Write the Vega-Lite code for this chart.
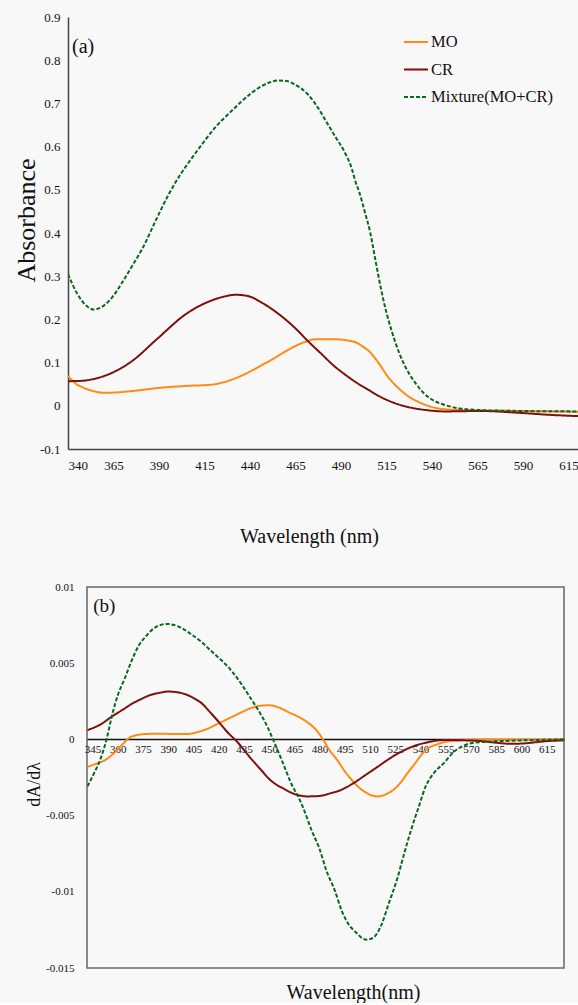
{
  "$schema": "https://vega.github.io/schema/vega-lite/v6.json",
  "background": "#f8f8f8",
  "padding": {"left": 13, "top": 11, "right": 0, "bottom": 0},
  "bounds": "flush",
  "spacing": 138,
  "config": {
    "font": "Liberation Serif",
    "axis": {"labelFont": "Liberation Serif", "titleFont": "Liberation Serif", "titleFontWeight": "normal", "labelColor": "#111", "titleColor": "#111", "grid": false, "ticks": false, "labelOverlap": false, "labelSeparation": 0},
    "legend": {"labelFont": "Liberation Serif", "labelColor": "#111"}
  },
  "datasets": {
    "a": [
      {"s": "MO", "wl": 340, "v": 0.069}, {"s": "MO", "wl": 344, "v": 0.052}, {"s": "MO", "wl": 348, "v": 0.043}, {"s": "MO", "wl": 354, "v": 0.034}, {"s": "MO", "wl": 360, "v": 0.030}, {"s": "MO", "wl": 367, "v": 0.031}, {"s": "MO", "wl": 375, "v": 0.034}, {"s": "MO", "wl": 389, "v": 0.041}, {"s": "MO", "wl": 405, "v": 0.046}, {"s": "MO", "wl": 419, "v": 0.049}, {"s": "MO", "wl": 429, "v": 0.059}, {"s": "MO", "wl": 437, "v": 0.073}, {"s": "MO", "wl": 446, "v": 0.093}, {"s": "MO", "wl": 454, "v": 0.112}, {"s": "MO", "wl": 462, "v": 0.132}, {"s": "MO", "wl": 469, "v": 0.146}, {"s": "MO", "wl": 476, "v": 0.154}, {"s": "MO", "wl": 486, "v": 0.154}, {"s": "MO", "wl": 494, "v": 0.151}, {"s": "MO", "wl": 498, "v": 0.147}, {"s": "MO", "wl": 502, "v": 0.137}, {"s": "MO", "wl": 506, "v": 0.124}, {"s": "MO", "wl": 511, "v": 0.097}, {"s": "MO", "wl": 516, "v": 0.066}, {"s": "MO", "wl": 521, "v": 0.043}, {"s": "MO", "wl": 527, "v": 0.022}, {"s": "MO", "wl": 532, "v": 0.010}, {"s": "MO", "wl": 537, "v": 0.001}, {"s": "MO", "wl": 547, "v": -0.008}, {"s": "MO", "wl": 567, "v": -0.011}, {"s": "MO", "wl": 590, "v": -0.012}, {"s": "MO", "wl": 621, "v": -0.014},
      {"s": "CR", "wl": 340, "v": 0.057}, {"s": "CR", "wl": 348, "v": 0.058}, {"s": "CR", "wl": 354, "v": 0.062}, {"s": "CR", "wl": 364, "v": 0.076}, {"s": "CR", "wl": 375, "v": 0.103}, {"s": "CR", "wl": 389, "v": 0.155}, {"s": "CR", "wl": 405, "v": 0.213}, {"s": "CR", "wl": 419, "v": 0.244}, {"s": "CR", "wl": 425, "v": 0.252}, {"s": "CR", "wl": 432, "v": 0.257}, {"s": "CR", "wl": 439, "v": 0.254}, {"s": "CR", "wl": 446, "v": 0.240}, {"s": "CR", "wl": 453, "v": 0.221}, {"s": "CR", "wl": 460, "v": 0.198}, {"s": "CR", "wl": 466, "v": 0.175}, {"s": "CR", "wl": 472, "v": 0.149}, {"s": "CR", "wl": 479, "v": 0.121}, {"s": "CR", "wl": 486, "v": 0.093}, {"s": "CR", "wl": 492, "v": 0.073}, {"s": "CR", "wl": 498, "v": 0.055}, {"s": "CR", "wl": 505, "v": 0.037}, {"s": "CR", "wl": 512, "v": 0.020}, {"s": "CR", "wl": 519, "v": 0.007}, {"s": "CR", "wl": 527, "v": -0.003}, {"s": "CR", "wl": 537, "v": -0.010}, {"s": "CR", "wl": 547, "v": -0.013}, {"s": "CR", "wl": 567, "v": -0.012}, {"s": "CR", "wl": 587, "v": -0.016}, {"s": "CR", "wl": 605, "v": -0.021}, {"s": "CR", "wl": 621, "v": -0.024},
      {"s": "Mixture(MO+CR)", "wl": 340, "v": 0.305}, {"s": "Mixture(MO+CR)", "wl": 345, "v": 0.260}, {"s": "Mixture(MO+CR)", "wl": 350, "v": 0.232}, {"s": "Mixture(MO+CR)", "wl": 354, "v": 0.223}, {"s": "Mixture(MO+CR)", "wl": 360, "v": 0.233}, {"s": "Mixture(MO+CR)", "wl": 365, "v": 0.255}, {"s": "Mixture(MO+CR)", "wl": 370, "v": 0.287}, {"s": "Mixture(MO+CR)", "wl": 375, "v": 0.322}, {"s": "Mixture(MO+CR)", "wl": 381, "v": 0.365}, {"s": "Mixture(MO+CR)", "wl": 388, "v": 0.427}, {"s": "Mixture(MO+CR)", "wl": 395, "v": 0.487}, {"s": "Mixture(MO+CR)", "wl": 402, "v": 0.537}, {"s": "Mixture(MO+CR)", "wl": 409, "v": 0.579}, {"s": "Mixture(MO+CR)", "wl": 415, "v": 0.613}, {"s": "Mixture(MO+CR)", "wl": 421, "v": 0.645}, {"s": "Mixture(MO+CR)", "wl": 428, "v": 0.675}, {"s": "Mixture(MO+CR)", "wl": 435, "v": 0.703}, {"s": "Mixture(MO+CR)", "wl": 441, "v": 0.725}, {"s": "Mixture(MO+CR)", "wl": 446, "v": 0.739}, {"s": "Mixture(MO+CR)", "wl": 451, "v": 0.749}, {"s": "Mixture(MO+CR)", "wl": 456, "v": 0.753}, {"s": "Mixture(MO+CR)", "wl": 461, "v": 0.751}, {"s": "Mixture(MO+CR)", "wl": 464, "v": 0.745}, {"s": "Mixture(MO+CR)", "wl": 468, "v": 0.735}, {"s": "Mixture(MO+CR)", "wl": 472, "v": 0.720}, {"s": "Mixture(MO+CR)", "wl": 477, "v": 0.692}, {"s": "Mixture(MO+CR)", "wl": 482, "v": 0.657}, {"s": "Mixture(MO+CR)", "wl": 487, "v": 0.622}, {"s": "Mixture(MO+CR)", "wl": 492, "v": 0.587}, {"s": "Mixture(MO+CR)", "wl": 496, "v": 0.548}, {"s": "Mixture(MO+CR)", "wl": 498, "v": 0.518}, {"s": "Mixture(MO+CR)", "wl": 500, "v": 0.495}, {"s": "Mixture(MO+CR)", "wl": 503, "v": 0.450}, {"s": "Mixture(MO+CR)", "wl": 506, "v": 0.402}, {"s": "Mixture(MO+CR)", "wl": 509, "v": 0.335}, {"s": "Mixture(MO+CR)", "wl": 512, "v": 0.270}, {"s": "Mixture(MO+CR)", "wl": 515, "v": 0.215}, {"s": "Mixture(MO+CR)", "wl": 518, "v": 0.171}, {"s": "Mixture(MO+CR)", "wl": 522, "v": 0.122}, {"s": "Mixture(MO+CR)", "wl": 526, "v": 0.085}, {"s": "Mixture(MO+CR)", "wl": 531, "v": 0.052}, {"s": "Mixture(MO+CR)", "wl": 536, "v": 0.027}, {"s": "Mixture(MO+CR)", "wl": 541, "v": 0.012}, {"s": "Mixture(MO+CR)", "wl": 547, "v": 0.002}, {"s": "Mixture(MO+CR)", "wl": 555, "v": -0.006}, {"s": "Mixture(MO+CR)", "wl": 567, "v": -0.010}, {"s": "Mixture(MO+CR)", "wl": 590, "v": -0.012}, {"s": "Mixture(MO+CR)", "wl": 621, "v": -0.013}
    ],
    "b": [
      {"s": "MO", "wl": 342, "v": -0.0018}, {"s": "MO", "wl": 347, "v": -0.0016}, {"s": "MO", "wl": 353, "v": -0.00132}, {"s": "MO", "wl": 359, "v": -0.00077}, {"s": "MO", "wl": 363, "v": -0.0003}, {"s": "MO", "wl": 367, "v": 0.00011}, {"s": "MO", "wl": 372, "v": 0.0003}, {"s": "MO", "wl": 378, "v": 0.00036}, {"s": "MO", "wl": 386, "v": 0.00037}, {"s": "MO", "wl": 394, "v": 0.00035}, {"s": "MO", "wl": 401, "v": 0.00035}, {"s": "MO", "wl": 406, "v": 0.00044}, {"s": "MO", "wl": 412, "v": 0.00064}, {"s": "MO", "wl": 420, "v": 0.00105}, {"s": "MO", "wl": 427, "v": 0.00143}, {"s": "MO", "wl": 434, "v": 0.0018}, {"s": "MO", "wl": 440, "v": 0.00209}, {"s": "MO", "wl": 446, "v": 0.00222}, {"s": "MO", "wl": 450, "v": 0.00224}, {"s": "MO", "wl": 456, "v": 0.00208}, {"s": "MO", "wl": 462, "v": 0.00176}, {"s": "MO", "wl": 468, "v": 0.00145}, {"s": "MO", "wl": 473, "v": 0.0011}, {"s": "MO", "wl": 478, "v": 0.00062}, {"s": "MO", "wl": 482, "v": 0.0}, {"s": "MO", "wl": 486, "v": -0.00072}, {"s": "MO", "wl": 491, "v": -0.00143}, {"s": "MO", "wl": 495, "v": -0.0021}, {"s": "MO", "wl": 499, "v": -0.00264}, {"s": "MO", "wl": 503, "v": -0.00312}, {"s": "MO", "wl": 507, "v": -0.00345}, {"s": "MO", "wl": 511, "v": -0.00368}, {"s": "MO", "wl": 515, "v": -0.00374}, {"s": "MO", "wl": 519, "v": -0.00362}, {"s": "MO", "wl": 524, "v": -0.0033}, {"s": "MO", "wl": 528, "v": -0.00286}, {"s": "MO", "wl": 532, "v": -0.00225}, {"s": "MO", "wl": 537, "v": -0.00154}, {"s": "MO", "wl": 541, "v": -0.00095}, {"s": "MO", "wl": 545, "v": -0.00055}, {"s": "MO", "wl": 550, "v": -0.00032}, {"s": "MO", "wl": 554, "v": -0.00018}, {"s": "MO", "wl": 560, "v": -0.00009}, {"s": "MO", "wl": 565, "v": -0.00005}, {"s": "MO", "wl": 575, "v": 0}, {"s": "MO", "wl": 600, "v": 0}, {"s": "MO", "wl": 625, "v": 0},
      {"s": "CR", "wl": 342, "v": 0.00061}, {"s": "CR", "wl": 350, "v": 0.001}, {"s": "CR", "wl": 357, "v": 0.00154}, {"s": "CR", "wl": 363, "v": 0.00195}, {"s": "CR", "wl": 368, "v": 0.00231}, {"s": "CR", "wl": 374, "v": 0.00265}, {"s": "CR", "wl": 379, "v": 0.0029}, {"s": "CR", "wl": 385, "v": 0.00306}, {"s": "CR", "wl": 390, "v": 0.00314}, {"s": "CR", "wl": 395, "v": 0.0031}, {"s": "CR", "wl": 400, "v": 0.00297}, {"s": "CR", "wl": 405, "v": 0.00272}, {"s": "CR", "wl": 410, "v": 0.00236}, {"s": "CR", "wl": 415, "v": 0.00177}, {"s": "CR", "wl": 420, "v": 0.00115}, {"s": "CR", "wl": 425, "v": 0.0005}, {"s": "CR", "wl": 431.5, "v": -0.00022}, {"s": "CR", "wl": 438, "v": -0.0011}, {"s": "CR", "wl": 445, "v": -0.00198}, {"s": "CR", "wl": 451, "v": -0.0027}, {"s": "CR", "wl": 458, "v": -0.0032}, {"s": "CR", "wl": 465, "v": -0.00358}, {"s": "CR", "wl": 473, "v": -0.00374}, {"s": "CR", "wl": 480, "v": -0.00371}, {"s": "CR", "wl": 486, "v": -0.00355}, {"s": "CR", "wl": 492, "v": -0.00335}, {"s": "CR", "wl": 499, "v": -0.00295}, {"s": "CR", "wl": 507, "v": -0.00236}, {"s": "CR", "wl": 515, "v": -0.00176}, {"s": "CR", "wl": 521, "v": -0.0013}, {"s": "CR", "wl": 528, "v": -0.00084}, {"s": "CR", "wl": 535, "v": -0.00048}, {"s": "CR", "wl": 543, "v": -0.00022}, {"s": "CR", "wl": 554, "v": -0.00004}, {"s": "CR", "wl": 565, "v": -0.00006}, {"s": "CR", "wl": 576, "v": -0.00011}, {"s": "CR", "wl": 585, "v": -0.00022}, {"s": "CR", "wl": 594, "v": -0.00029}, {"s": "CR", "wl": 602, "v": -0.00026}, {"s": "CR", "wl": 609, "v": -0.00018}, {"s": "CR", "wl": 617, "v": -0.0001}, {"s": "CR", "wl": 625, "v": -0.00007},
      {"s": "Mixture(MO+CR)", "wl": 342, "v": -0.00308}, {"s": "Mixture(MO+CR)", "wl": 346, "v": -0.0022}, {"s": "Mixture(MO+CR)", "wl": 350, "v": -0.0012}, {"s": "Mixture(MO+CR)", "wl": 353.3, "v": 0}, {"s": "Mixture(MO+CR)", "wl": 357, "v": 0.00176}, {"s": "Mixture(MO+CR)", "wl": 360, "v": 0.0029}, {"s": "Mixture(MO+CR)", "wl": 364, "v": 0.00396}, {"s": "Mixture(MO+CR)", "wl": 368, "v": 0.0051}, {"s": "Mixture(MO+CR)", "wl": 372.4, "v": 0.00615}, {"s": "Mixture(MO+CR)", "wl": 377, "v": 0.0068}, {"s": "Mixture(MO+CR)", "wl": 381, "v": 0.00725}, {"s": "Mixture(MO+CR)", "wl": 385, "v": 0.0075}, {"s": "Mixture(MO+CR)", "wl": 389, "v": 0.00758}, {"s": "Mixture(MO+CR)", "wl": 393, "v": 0.00752}, {"s": "Mixture(MO+CR)", "wl": 397, "v": 0.00736}, {"s": "Mixture(MO+CR)", "wl": 403, "v": 0.00695}, {"s": "Mixture(MO+CR)", "wl": 410, "v": 0.00637}, {"s": "Mixture(MO+CR)", "wl": 416, "v": 0.00575}, {"s": "Mixture(MO+CR)", "wl": 423, "v": 0.00505}, {"s": "Mixture(MO+CR)", "wl": 428, "v": 0.00445}, {"s": "Mixture(MO+CR)", "wl": 434, "v": 0.00355}, {"s": "Mixture(MO+CR)", "wl": 439, "v": 0.0027}, {"s": "Mixture(MO+CR)", "wl": 445, "v": 0.00165}, {"s": "Mixture(MO+CR)", "wl": 449, "v": 0.00082}, {"s": "Mixture(MO+CR)", "wl": 452.3, "v": 0}, {"s": "Mixture(MO+CR)", "wl": 458, "v": -0.0015}, {"s": "Mixture(MO+CR)", "wl": 464, "v": -0.0031}, {"s": "Mixture(MO+CR)", "wl": 467, "v": -0.0037}, {"s": "Mixture(MO+CR)", "wl": 471, "v": -0.0047}, {"s": "Mixture(MO+CR)", "wl": 475, "v": -0.0059}, {"s": "Mixture(MO+CR)", "wl": 480, "v": -0.0072}, {"s": "Mixture(MO+CR)", "wl": 484, "v": -0.0086}, {"s": "Mixture(MO+CR)", "wl": 489, "v": -0.0099}, {"s": "Mixture(MO+CR)", "wl": 493, "v": -0.0112}, {"s": "Mixture(MO+CR)", "wl": 497, "v": -0.0121}, {"s": "Mixture(MO+CR)", "wl": 502, "v": -0.0127}, {"s": "Mixture(MO+CR)", "wl": 505, "v": -0.01302}, {"s": "Mixture(MO+CR)", "wl": 508, "v": -0.01314}, {"s": "Mixture(MO+CR)", "wl": 512, "v": -0.013}, {"s": "Mixture(MO+CR)", "wl": 517, "v": -0.0121}, {"s": "Mixture(MO+CR)", "wl": 521, "v": -0.0108}, {"s": "Mixture(MO+CR)", "wl": 526, "v": -0.0092}, {"s": "Mixture(MO+CR)", "wl": 530, "v": -0.0076}, {"s": "Mixture(MO+CR)", "wl": 534.5, "v": -0.0059}, {"s": "Mixture(MO+CR)", "wl": 539, "v": -0.0044}, {"s": "Mixture(MO+CR)", "wl": 543, "v": -0.0031}, {"s": "Mixture(MO+CR)", "wl": 548, "v": -0.0022}, {"s": "Mixture(MO+CR)", "wl": 554, "v": -0.00154}, {"s": "Mixture(MO+CR)", "wl": 560, "v": -0.0008}, {"s": "Mixture(MO+CR)", "wl": 565, "v": -0.00044}, {"s": "Mixture(MO+CR)", "wl": 570, "v": -0.00025}, {"s": "Mixture(MO+CR)", "wl": 576, "v": -0.00018}, {"s": "Mixture(MO+CR)", "wl": 590, "v": -0.0001}, {"s": "Mixture(MO+CR)", "wl": 610, "v": -0.00004}, {"s": "Mixture(MO+CR)", "wl": 625, "v": 0}
    ],
    "la": [{"t": "(a)", "wl": 342.2, "v": 0.831}],
    "lb": [{"t": "(b)", "wl": 345.4, "v": 0.00877}]
  },
  "vconcat": [
    {
      "width": 512,
      "height": 432,
      "view": {"stroke": null},
      "layer": [
        {
          "mark": {"type": "rule", "color": "#888", "strokeWidth": 1},
          "encoding": {"y": {"datum": 0, "type": "quantitative"}}
        },
        {
          "data": {"name": "a"},
          "mark": {"type": "line", "strokeWidth": 2, "interpolate": "monotone", "clip": true},
          "encoding": {
            "x": {"field": "wl", "type": "quantitative", "scale": {"domain": [340, 621.3], "nice": false, "zero": false},
              "axis": {"orient": "bottom", "values": [340, 365, 390, 415, 440, 465, 490, 515, 540, 565, 590, 615], "labelOverlap": false, "labelFontSize": 13, "labelPadding": 10, "domainColor": "#444", "domainWidth": 1.5, "title": "Wavelength (nm)", "titleFontSize": 20, "titleX": 241, "titleY": 87, "titleBaseline": "middle", "titleAnchor": null}},
            "y": {"field": "v", "type": "quantitative", "scale": {"domain": [-0.1, 0.9], "nice": false, "zero": false},
              "axis": {"values": [-0.1, 0, 0.1, 0.2, 0.3, 0.4, 0.5, 0.6, 0.7, 0.8, 0.9], "labelExpr": "replace(format(datum.value, '~g'), '\u2212', '-')", "labelOverlap": false, "labelFontSize": 13, "labelPadding": 8, "domainColor": "#444", "domainWidth": 1.5, "title": "Absorbance", "titleFontSize": 26, "titlePadding": 0, "titleY": 203}},
            "color": {"field": "s", "type": "nominal", "scale": {"domain": ["MO", "CR", "Mixture(MO+CR)"], "range": ["#ff8a14", "#7d0f0f", "#0a6620"]},
              "legend": {"title": null, "orient": "none", "legendX": 335, "legendY": 12, "symbolType": "stroke", "symbolSize": 576, "symbolStrokeWidth": 2, "labelFontSize": 16.5, "rowPadding": 5.5, "labelOffset": 2, "padding": 0}},
            "strokeDash": {"field": "s", "type": "nominal", "scale": {"domain": ["MO", "CR", "Mixture(MO+CR)"], "range": [[1, 0], [1, 0], [4, 2]]}, "legend": null}
          }
        },
        {
          "mark": {"type": "rule", "color": "#444", "strokeWidth": 1.5},
          "encoding": {"y": {"datum": 0.9, "type": "quantitative"}}
        },
        {
          "data": {"name": "la"},
          "mark": {"type": "text", "align": "left", "baseline": "middle", "fontSize": 20, "font": "Liberation Serif", "color": "#111"},
          "encoding": {"x": {"field": "wl", "type": "quantitative"}, "y": {"field": "v", "type": "quantitative"}, "text": {"field": "t"}}
        }
      ]
    },
    {
      "bounds": "flush",
      "spacing": 0,
      "hconcat": [
        {
          "width": 19,
          "height": 381,
          "view": {"stroke": null},
          "data": {"values": []},
          "mark": "point",
          "encoding": {}
        },
        {
          "width": 477,
          "height": 381,
          "view": {"stroke": "#666", "strokeWidth": 1.5},
          "data": {"name": "b"},
          "layer": [
            {
              "mark": {"type": "line", "strokeWidth": 2, "interpolate": "monotone", "clip": true},
              "encoding": {
                "x": {"field": "wl", "type": "quantitative", "scale": {"domain": [341.7, 625.3], "nice": false, "zero": false},
                  "axis": {"orient": "bottom", "offset": -229, "values": [345, 360, 375, 390, 405, 420, 435, 450, 465, 480, 495, 510, 525, 540, 555, 570, 585, 600, 615], "labelOverlap": false, "labelSeparation": 0, "labelBound": false, "labelFontSize": 11, "labelPadding": 4, "domainColor": "#111", "domainWidth": 1.5, "title": "Wavelength(nm)", "titleFontSize": 20, "titleX": 266, "titleY": 253, "titleBaseline": "middle", "titleAnchor": null}},
                "y": {"field": "v", "type": "quantitative", "scale": {"domain": [-0.015, 0.01], "nice": false, "zero": false},
                  "axis": {"values": [-0.015, -0.01, -0.005, 0, 0.005, 0.01], "labelExpr": "replace(format(datum.value, '~g'), '\u2212', '-')", "labelOverlap": false, "labelFontSize": 11, "labelPadding": 13, "domain": false, "title": "dA/dλ", "titleFontSize": 18, "titlePadding": 2, "titleY": 197}},
                "color": {"field": "s", "type": "nominal", "scale": {"domain": ["MO", "CR", "Mixture(MO+CR)"], "range": ["#ff8a14", "#7d0f0f", "#0a6620"]},
                  "legend": {"title": null, "orient": "none", "legendX": 283, "legendY": 22, "symbolType": "stroke", "symbolSize": 676, "symbolStrokeWidth": 1.6, "labelFontSize": 16.5, "rowPadding": 13, "labelOffset": 2, "padding": 0}},
                "strokeDash": {"field": "s", "type": "nominal", "scale": {"domain": ["MO", "CR", "Mixture(MO+CR)"], "range": [[1, 0], [1, 0], [4, 2]]}, "legend": null}
              }
            },
            {
              "data": {"name": "lb"},
              "mark": {"type": "text", "align": "left", "baseline": "middle", "fontSize": 19, "font": "Liberation Serif", "color": "#111"},
              "encoding": {
                "x": {"field": "wl", "type": "quantitative",
                  "axis": {"orient": "bottom", "offset": -229, "values": [345, 360, 375, 390, 405, 420, 435, 450, 465, 480, 495, 510, 525, 540, 555, 570, 585, 600, 615], "labelOverlap": false, "labelSeparation": 0, "labelBound": false, "labelFontSize": 11, "labelPadding": 4, "domainColor": "#111", "domainWidth": 1.5, "title": "Wavelength(nm)", "titleFontSize": 20, "titleX": 266, "titleY": 253, "titleBaseline": "middle", "titleAnchor": null}},
                "y": {"field": "v", "type": "quantitative"},
                "text": {"field": "t"}
              }
            }
          ]
        }
      ]
    }
  ]
}
